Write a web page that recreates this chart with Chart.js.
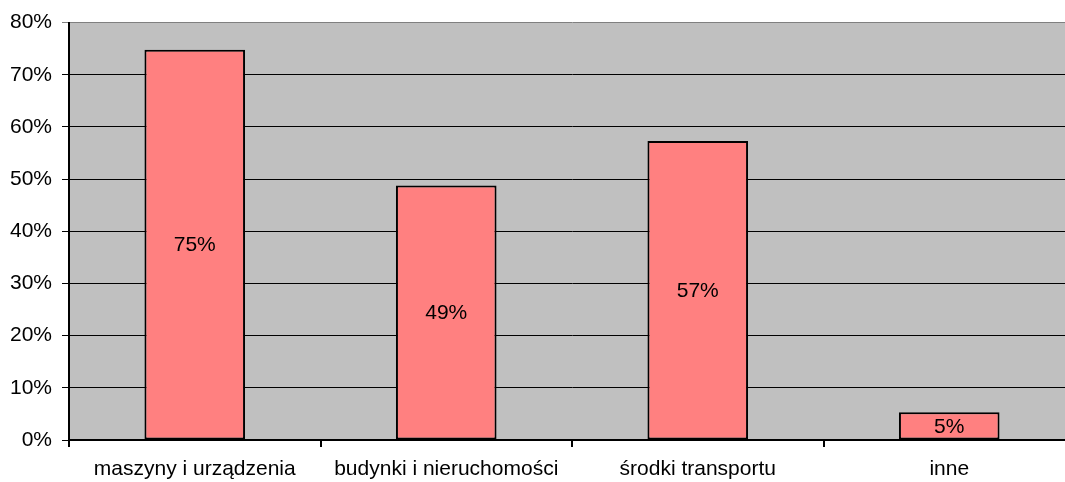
<!DOCTYPE html>
<html><head><meta charset="utf-8">
<script src="https://cdn.jsdelivr.net/npm/chart.js@4/dist/chart.umd.min.js"></script>
<style>html,body{margin:0;padding:0;overflow:hidden;background:#fff}#w{width:1075px;height:482px;position:relative}</style>
</head><body><div id="w"><canvas id="c"></canvas></div>
<script>
const categories = ['maszyny i urządzenia', 'budynki i nieruchomości', 'środki transportu', 'inne'];
const values = [74.8, 48.8, 57.3, 5.3];
const yTicks = [0, 10, 20, 30, 40, 50, 60, 70, 80];

const bgPlugin = {
  id: 'bg',
  beforeDraw(chart) {
    const {ctx, chartArea: a} = chart;
    ctx.save();
    ctx.fillStyle = '#C0C0C0';
    ctx.fillRect(a.left, a.top, a.right - a.left, a.bottom - a.top);
    ctx.restore();
  }
};
const labelPlugin = {
  id: 'lbl',
  afterDatasetsDraw(chart) {
    const {ctx} = chart;
    const meta = chart.getDatasetMeta(0);
    ctx.save();
    ctx.font = '21px "Liberation Sans", Arial, sans-serif';
    ctx.fillStyle = '#000';
    ctx.textAlign = 'center';
    ctx.textBaseline = 'middle';
    meta.data.forEach((bar, i) => {
      const y = (bar.y + bar.base) / 2;
      ctx.fillText(Math.round(values[i]) + '%', bar.x, y + 1);
    });
    ctx.restore();
  }
};

new Chart(document.getElementById('c'), {
  type: 'bar',
  data: {
    labels: categories,
    datasets: [{
      data: values,
      backgroundColor: '#FF8080',
      borderColor: '#000',
      borderWidth: 2,
      borderSkipped: false,
      categoryPercentage: 1,
      barPercentage: 0.4
    }]
  },
  options: {
    responsive: true,
    maintainAspectRatio: false,
    animation: false,
    layout: {padding: {top: 18, left: 0, right: 0, bottom: 0}},
    plugins: {legend: {display: false}, tooltip: {enabled: false}},
    scales: {
      x: {
        grid: {display: true, drawOnChartArea: false, drawTicks: true, tickLength: 7, color: '#000', lineWidth: 2, offset: true},
        border: {display: true, color: '#000', width: 2},
        ticks: {color: '#000', font: {family: '"Liberation Sans", Arial, sans-serif', size: 21}, padding: 10, maxRotation: 0, autoSkip: false},
        afterFit(s) { s.height = 42; }
      },
      y: {
        min: 0, max: 80,
        afterBuildTicks(s) { s.ticks = yTicks.map(v => ({value: v})); },
        grid: {
          drawTicks: true, tickLength: 7, lineWidth: 1,
          color: ctx => (ctx.tick && ctx.tick.value === 80) ? '#808080' : '#000'
        },
        border: {display: true, color: '#000', width: 2},
        ticks: {color: '#000', font: {family: '"Liberation Sans", Arial, sans-serif', size: 21}, padding: 10, callback: v => v + '%'},
        afterFit(s) { s.width = 69; }
      }
    }
  },
  plugins: [bgPlugin, labelPlugin]
});
</script></body></html>
